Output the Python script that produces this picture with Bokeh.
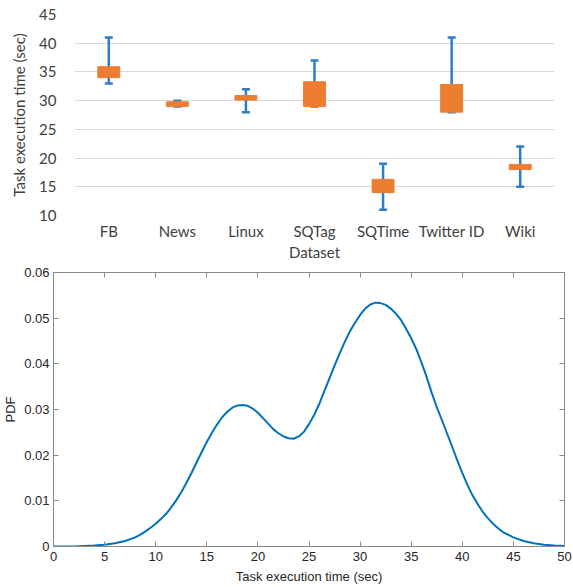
from bokeh.plotting import figure
from bokeh.models import (ColumnDataSource, Range1d, FixedTicker, Whisker, TeeHead,
                          LinearAxis, CustomJSTickFormatter)
from bokeh.embed import file_html
from bokeh.resources import INLINE

# ---------------- data ----------------
categories = ["FB", "News", "Linux", "SQTag\nDataset", "SQTime", "Twitter ID", "Wiki"]
box_low = [34.0, 29.0, 30.1, 29.0, 14.0, 28.0, 18.0]
box_high = [35.9, 29.8, 30.9, 33.3, 16.3, 32.8, 18.9]
err_low = [33.0, 29.0, 28.0, 29.0, 11.0, 28.0, 15.0]
err_high = [41.0, 30.0, 32.0, 37.0, 19.0, 41.0, 22.0]
y1_ticks = [10, 15, 20, 25, 30, 35, 40, 45]

pdf_x = [0, 1, 2, 3, 4, 5, 6, 7, 8, 8.5, 9, 9.5, 10, 10.5, 11, 11.5, 12, 12.5, 13, 13.5,
         14, 14.5, 15, 15.5, 16, 16.5, 17, 17.5, 18, 18.5, 19, 19.5, 20, 20.5, 21, 21.5,
         22, 22.5, 23, 23.5, 24, 24.5, 25, 25.5, 26, 26.5, 27, 27.5, 28, 28.5, 29, 29.5,
         30, 30.5, 31, 31.5, 32, 32.5, 33, 33.5, 34, 34.5, 35, 35.5, 36, 36.5, 37, 37.5,
         38, 38.5, 39, 39.5, 40, 40.5, 41, 41.5, 42, 42.5, 43, 43.5, 44, 45, 46, 47, 48,
         49, 50]
pdf_y = [0.0000, 0.0000, 0.0000, 0.0001, 0.0002, 0.0004, 0.0007, 0.0012, 0.0020, 0.0026,
         0.0033, 0.0041, 0.0050, 0.0060, 0.0071, 0.0085, 0.0101, 0.0119, 0.0139, 0.0161,
         0.0184, 0.0207, 0.0229, 0.0249, 0.0267, 0.0283, 0.0295, 0.0304, 0.0309, 0.0310,
         0.0308, 0.0302, 0.0293, 0.0281, 0.0269, 0.0257, 0.0248, 0.0241, 0.0237, 0.0236,
         0.0241, 0.0251, 0.0268, 0.0288, 0.0312, 0.0340, 0.0368, 0.0396, 0.0423, 0.0448,
         0.0471, 0.0490, 0.0507, 0.0521, 0.0530, 0.0534, 0.0533, 0.0529, 0.0521, 0.0510,
         0.0496, 0.0477, 0.0456, 0.0432, 0.0403, 0.0372, 0.0337, 0.0305, 0.0277, 0.0248,
         0.0219, 0.0189, 0.0161, 0.0135, 0.0112, 0.0093, 0.0076, 0.0062, 0.0050, 0.0040,
         0.0031, 0.0020, 0.0012, 0.0007, 0.0004, 0.0002, 0.0001]
x2_ticks = [0, 5, 10, 15, 20, 25, 30, 35, 40, 45, 50]
y2_ticks = [0, 0.01, 0.02, 0.03, 0.04, 0.05, 0.06]

ORANGE = "#ED7D31"
BLUE_ERR = "#2E7DC8"
BLUE_LINE = "#0072BD"
TOP_FONT = "Lato"
BOT_FONT = "Liberation Sans"

# ---------------- top chart ----------------
src = ColumnDataSource(dict(cat=categories, bl=box_low, bh=box_high,
                            el=err_low, eh=err_high))

p1 = figure(x_range=categories, y_range=Range1d(10, 45), width=573, height=264,
            min_border_left=74, min_border_right=19, min_border_top=14,
            min_border_bottom=49, output_backend="svg", toolbar_location=None)
p1.vbar(x="cat", bottom="bl", top="bh", width=0.32, source=src,
        fill_color=ORANGE, line_color=ORANGE)
p1.add_layout(Whisker(base="cat", lower="el", upper="eh", source=src,
                      line_color=BLUE_ERR, line_width=2.5,
                      upper_head=TeeHead(size=8, line_color=BLUE_ERR, line_width=2.5),
                      lower_head=TeeHead(size=8, line_color=BLUE_ERR, line_width=2.5)))
p1.outline_line_color = None
p1.xgrid.grid_line_color = None
p1.ygrid.grid_line_color = "#d9d9d9"
p1.ygrid.grid_line_width = 1
p1.yaxis.ticker = FixedTicker(ticks=y1_ticks)
for ax in (p1.xaxis[0], p1.yaxis[0]):
    ax.axis_line_color = None
    ax.major_tick_line_color = None
    ax.minor_tick_line_color = None
    ax.major_label_text_font = TOP_FONT
    ax.major_label_text_font_size = "15px"
    ax.major_label_text_color = "#404040"
p1.yaxis.major_label_standoff = 12
p1.yaxis.axis_label = "Task execution time (sec)"
p1.yaxis.axis_label_text_font = TOP_FONT
p1.yaxis.axis_label_text_font_size = "15px"
p1.yaxis.axis_label_text_font_style = "normal"
p1.yaxis.axis_label_text_color = "#404040"
p1.yaxis.axis_label_standoff = 8
p1.xaxis.major_label_standoff = 0

# ---------------- bottom chart ----------------
p2 = figure(x_range=Range1d(0, 50), y_range=Range1d(0, 0.06), width=573, height=323,
            min_border_left=53, min_border_right=9, min_border_top=8,
            min_border_bottom=41, output_backend="svg", toolbar_location=None)
p2.line(pdf_x, pdf_y, line_color=BLUE_LINE, line_width=2)
p2.grid.grid_line_color = None
p2.outline_line_color = "#8a8a8a"
p2.add_layout(LinearAxis(), "right")
p2.add_layout(LinearAxis(), "above")
fmt = CustomJSTickFormatter(code="return String(+tick.toFixed(2));")
blank = CustomJSTickFormatter(code="return '';")
for ax in p2.axis:
    ax.axis_line_color = "#8a8a8a"
    ax.major_tick_line_color = "#8a8a8a"
    ax.major_tick_in = 5
    ax.major_tick_out = 0
    ax.minor_tick_line_color = None
    ax.major_label_text_font = BOT_FONT
    ax.major_label_text_font_size = "13px"
    ax.major_label_text_color = "#262626"
    ax.axis_label_text_font = BOT_FONT
    ax.axis_label_text_font_size = "13px"
    ax.axis_label_text_font_style = "normal"
    ax.axis_label_text_color = "#262626"
p2.xaxis.ticker = FixedTicker(ticks=x2_ticks)
p2.yaxis.ticker = FixedTicker(ticks=y2_ticks)
p2.left[0].formatter = fmt
p2.below[0].formatter = fmt
for ax in (p2.right[0], p2.above[0]):
    ax.formatter = blank
    ax.major_label_standoff = 0
p2.left[0].major_label_standoff = 4
p2.left[0].axis_label = "PDF"
p2.left[0].axis_label_standoff = 3
p2.below[0].major_label_standoff = 5
p2.below[0].axis_label = "Task execution time (sec)"
p2.below[0].axis_label_standoff = 5

open("out.html", "w").write(file_html((p1, p2), INLINE))
